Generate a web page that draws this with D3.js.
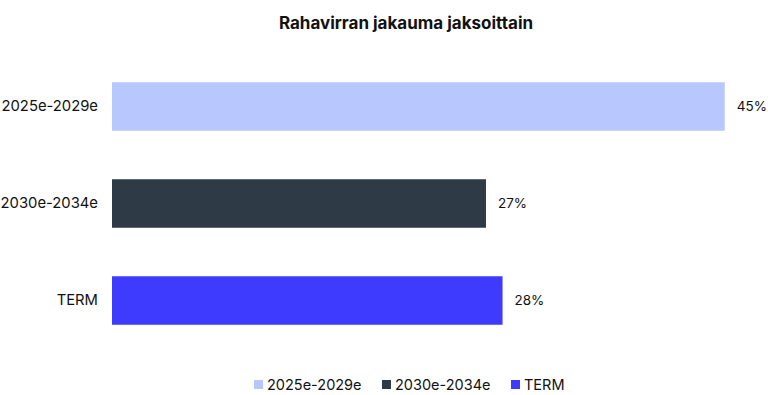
<!DOCTYPE html>
<html>
<head>
<meta charset="utf-8">
<script src="https://cdn.jsdelivr.net/npm/d3@7"></script>
<style>
  body { margin: 0; background: #fff; }
  svg text { font-family: Inter, "Open Sans", sans-serif; fill: #111; }
</style>
</head>
<body>
<div id="chart"></div>
<script>

// data
var categories = ['2025e-2029e', '2030e-2034e', 'TERM'];
var values = [44.4, 27.1, 28.3];
var valueLabels = ['45%', '27%', '28%'];
var colors = ['#b8c7fd', '#2f3a47', '#3e3bff'];
var title = 'Rahavirran jakauma jaksoittain';

var width = 768,
    height = 395;

var svg = d3.select('#chart')
  .append('svg')
  .attr('width', width)
  .attr('height', height);

// scales
var x = d3.scaleLinear()
  .domain([0, 50])
  .range([112, 802]);

var y = d3.scaleBand()
  .domain(categories)
  .range([58, 349])
  .paddingInner(0.5)
  .paddingOuter(0.25);

// title
svg.append('text')
  .attr('x', 406)
  .attr('y', 29)
  .attr('text-anchor', 'middle')
  .style('font-size', '17px')
  .style('font-weight', 'bold')
  .text(title);

// bars
svg.selectAll('rect.bar')
  .data(values)
  .enter()
  .append('rect')
  .attr('class', 'bar')
  .attr('x', x(0))
  .attr('y', function(d, i) { return y(categories[i]); })
  .attr('width', function(d) { return x(d) - x(0); })
  .attr('height', y.bandwidth())
  .style('fill', function(d, i) { return colors[i]; });

// value labels
svg.selectAll('text.val')
  .data(values)
  .enter()
  .append('text')
  .attr('class', 'val')
  .attr('x', function(d) { return x(d) + 12; })
  .attr('y', function(d, i) { return y(categories[i]) + y.bandwidth() / 2; })
  .attr('dy', '0.35em')
  .style('font-size', '13.5px')
  .text(function(d, i) { return valueLabels[i]; });

// category axis (no line, no ticks)
var axis = svg.append('g')
  .attr('transform', 'translate(98,0)')
  .call(d3.axisLeft(y).tickSize(0).tickPadding(0));
axis.select('.domain').remove();
axis.selectAll('text')
  .style('font-size', '14.8px')
  .style('font-family', 'Inter, sans-serif')
  .style('fill', '#111');

// legend
var legendX = [254, 382, 511];
var legend = svg.selectAll('g.legend')
  .data(categories)
  .enter()
  .append('g')
  .attr('class', 'legend')
  .attr('transform', function(d, i) { return 'translate(' + legendX[i] + ',380)'; });

legend.append('rect')
  .attr('width', 9)
  .attr('height', 9)
  .style('fill', function(d, i) { return colors[i]; });

legend.append('text')
  .attr('x', 13)
  .attr('y', 4.5)
  .attr('dy', '0.35em')
  .style('font-size', '14.5px')
  .text(function(d) { return d; });

</script>
</body>
</html>
